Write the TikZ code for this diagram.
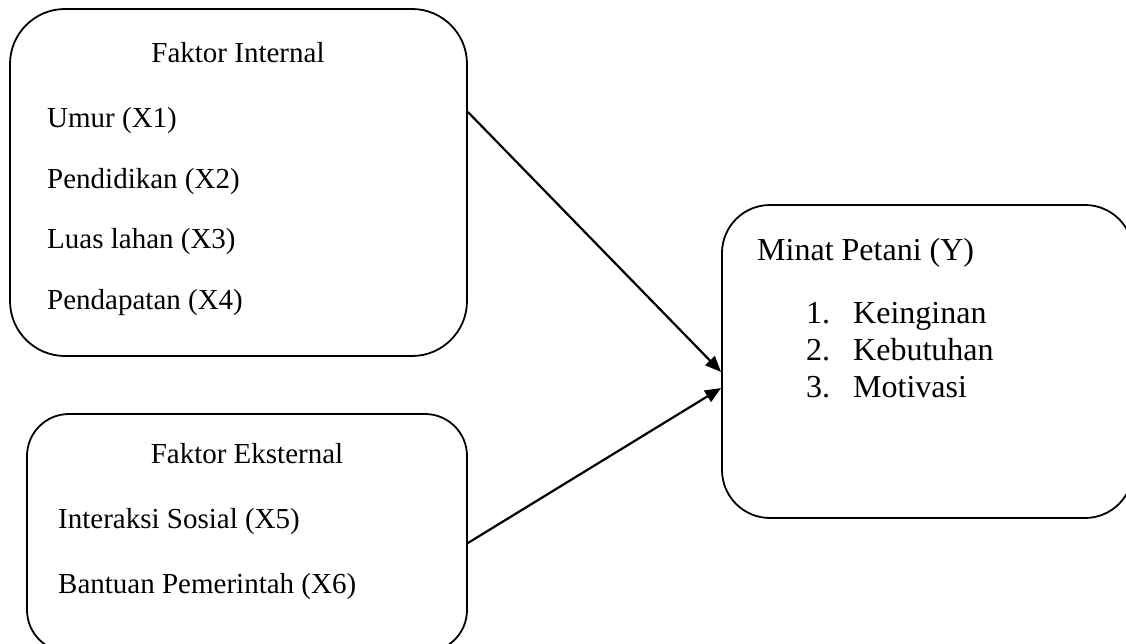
\documentclass[tikz,border=0pt]{standalone}
\usepackage{fontspec}
\setmainfont{Liberation Serif}
\usetikzlibrary{arrows.meta,calc}
\begin{document}
\begin{tikzpicture}[x=1pt,y=-1pt,
  box/.style={draw,line width=1.8pt,rounded corners=#1,inner sep=0pt,anchor=center},
  lbl/.style={font=\fontsize{29}{35}\selectfont,inner sep=0pt,anchor=base west},
  ttl/.style={font=\fontsize{29}{35}\selectfont,inner sep=0pt,anchor=base},
  lblb/.style={font=\fontsize{32}{38}\selectfont,inner sep=0pt,anchor=base west},
  arr/.style={line width=2.2pt,-{Triangle[length=16pt,width=13pt]}}]
\useasboundingbox (0,0) rectangle (1126,644);
% boxes
\node[box=55pt,minimum width=457pt,minimum height=347pt] (int) at (238.5,182.5) {};
\node[box=42pt,minimum width=440pt,minimum height=238pt] (ext) at (247,533) {};
\node[box=48pt,minimum width=411pt,minimum height=313pt] (min) at (927.5,361.5) {};
% internal
\node[ttl] (tint) at (238,63) {Faktor Internal};
\node[lbl] (x1) at (47,128) {Umur (X1)};
\node[lbl] (x2) at (47,189) {Pendidikan (X2)};
\node[lbl] (x3) at (47,249) {Luas lahan (X3)};
\node[lbl] (x4) at (47,309) {Pendapatan (X4)};
% external
\node[ttl] (text) at (247,463) {Faktor Eksternal};
\node[lbl] (x5) at (58,528) {Interaksi Sosial (X5)};
\node[lbl] (x6) at (58,593) {Bantuan Pemerintah (X6)};
% minat
\node[lblb] (tmin) at (757,260) {Minat Petani (Y)};
\node[lblb] (n1) at (806,323) {1.};
\node[lblb] (y1) at (853,323) {Keinginan};
\node[lblb] (n2) at (806,360) {2.};
\node[lblb] (y2) at (853,360) {Kebutuhan};
\node[lblb] (n3) at (806,397) {3.};
\node[lblb] (y3) at (853,397) {Motivasi};
% arrows
\draw[arr] ([yshift=70.5pt]int.east) -- ([yshift=-10.5pt]min.west);
\draw[arr] ([yshift=-10pt]ext.east) -- ([yshift=-26.5pt]min.west);
\end{tikzpicture}
\end{document}
